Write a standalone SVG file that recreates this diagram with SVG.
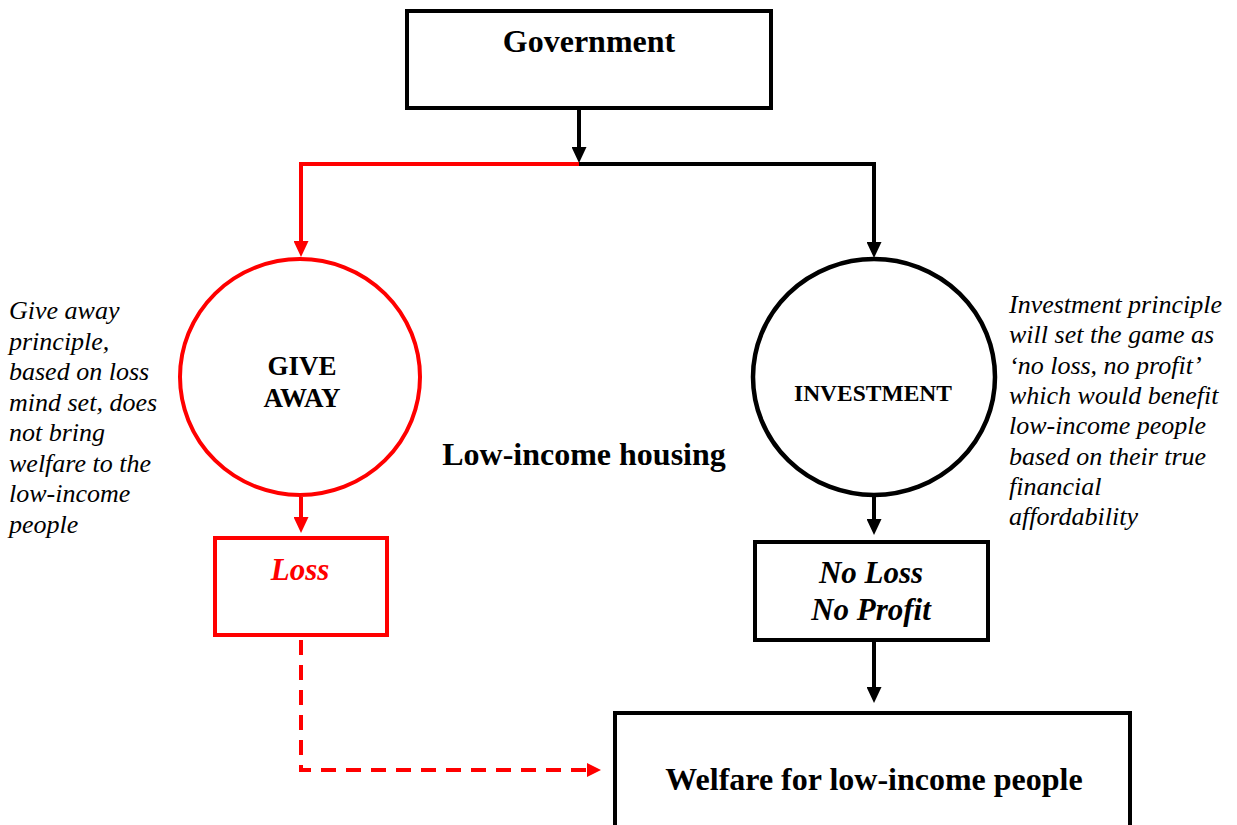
<svg xmlns="http://www.w3.org/2000/svg" width="1237" height="825" viewBox="0 0 1237 825">
  <defs>
    <!-- arrowheads: tip sits 8px beyond the end of the line -->
    <marker id="head-black" markerUnits="userSpaceOnUse" markerWidth="16" markerHeight="15" refX="8" refY="7.5" orient="auto">
      <path d="M0,0 L16,7.5 L0,15 Z" fill="#000"/>
    </marker>
    <marker id="head-red" markerUnits="userSpaceOnUse" markerWidth="16" markerHeight="15" refX="8" refY="7.5" orient="auto">
      <path d="M0,0 L16,7.5 L0,15 Z" fill="#ff0000"/>
    </marker>
    <marker id="head-red-small" markerUnits="userSpaceOnUse" markerWidth="14" markerHeight="14" refX="6" refY="7" orient="auto">
      <path d="M0,0 L14,7 L0,14 Z" fill="#ff0000"/>
    </marker>
    <style>
      .box { fill: #fff; stroke: #000; stroke-width: 4; }
      .box-red { fill: #fff; stroke: #ff0000; stroke-width: 4; }
      .ring { fill: #fff; stroke: #000; stroke-width: 4.5; }
      .ring-red { fill: #fff; stroke: #ff0000; stroke-width: 4; }
      .wire { fill: none; stroke: #000; stroke-width: 4; }
      .wire-red { fill: none; stroke: #ff0000; stroke-width: 4; }
      .dashed { stroke-dasharray: 15 10; }
      .title { font-family: "Liberation Serif", "Times New Roman", serif; font-weight: bold; fill: #000; text-anchor: middle; }
      .emph { font-family: "Liberation Serif", "Times New Roman", serif; font-weight: bold; font-style: italic; text-anchor: middle; }
      .note { font-family: "Liberation Serif", "Times New Roman", serif; font-style: italic; font-size: 26px; fill: #000; }
    </style>
  </defs>

  <rect width="1237" height="825" fill="#fff"/>

  <!-- connectors -->
  <g id="connectors">
    <line class="wire" x1="579" y1="110" x2="579" y2="155" marker-end="url(#head-black)"/>
    <polyline class="wire-red" points="583,164 301,164 301,249" marker-end="url(#head-red)"/>
    <polyline class="wire" points="579,164 874,164 874,250" marker-end="url(#head-black)"/>
    <line class="wire-red" x1="301" y1="497" x2="301" y2="525" marker-end="url(#head-red)"/>
    <line class="wire" x1="874" y1="497" x2="874" y2="527" marker-end="url(#head-black)"/>
    <line class="wire" x1="874" y1="642" x2="874" y2="695" marker-end="url(#head-black)"/>
    <polyline class="wire-red dashed" points="301,640 301,770 593,770" marker-end="url(#head-red-small)"/>
  </g>

  <g id="government">
    <rect class="box" x="407" y="11" width="364" height="97"/>
    <text class="title" x="589" y="52" font-size="32">Government</text>
  </g>

  <g id="give-away">
    <ellipse class="ring-red" cx="300" cy="377" rx="120" ry="118"/>
    <text class="title" x="302" y="375" font-size="27">GIVE</text>
    <text class="title" x="302" y="407" font-size="27">AWAY</text>
  </g>

  <g id="investment">
    <ellipse class="ring" cx="874" cy="377" rx="121" ry="118"/>
    <text class="title" x="873" y="401" font-size="23" textLength="158" lengthAdjust="spacingAndGlyphs">INVESTMENT</text>
  </g>

  <g id="loss">
    <rect class="box-red" x="215" y="538" width="172" height="97"/>
    <text class="emph" x="300" y="580" font-size="31" fill="#ff0000">Loss</text>
  </g>

  <g id="no-loss-no-profit">
    <rect class="box" x="755" y="542" width="233" height="98"/>
    <text class="emph" x="871" y="583" font-size="31" fill="#000">No Loss</text>
    <text class="emph" x="871" y="620" font-size="31" fill="#000">No Profit</text>
  </g>

  <g id="welfare">
    <rect class="box" x="615" y="713" width="515" height="130"/>
    <text class="title" x="874" y="790" font-size="32">Welfare for low-income people</text>
  </g>

  <g id="housing-label">
    <text class="title" x="584" y="465" font-size="32">Low-income housing</text>
  </g>

  <g id="give-away-note">
    <text class="note" x="9" y="319">Give away</text>
    <text class="note" x="9" y="349.5">principle,</text>
    <text class="note" x="9" y="380">based on loss</text>
    <text class="note" x="9" y="410.5">mind set, does</text>
    <text class="note" x="9" y="441">not bring</text>
    <text class="note" x="9" y="471.5">welfare to the</text>
    <text class="note" x="9" y="502">low-income</text>
    <text class="note" x="9" y="532.5">people</text>
  </g>

  <g id="investment-note">
    <text class="note" x="1009" y="313">Investment principle</text>
    <text class="note" x="1009" y="343">will set the game as</text>
    <text class="note" x="1009" y="373.5">‘no loss, no profit’</text>
    <text class="note" x="1009" y="404">which would benefit</text>
    <text class="note" x="1009" y="434">low-income people</text>
    <text class="note" x="1009" y="464.5">based on their true</text>
    <text class="note" x="1009" y="495">financial</text>
    <text class="note" x="1009" y="525">affordability</text>
  </g>
</svg>
